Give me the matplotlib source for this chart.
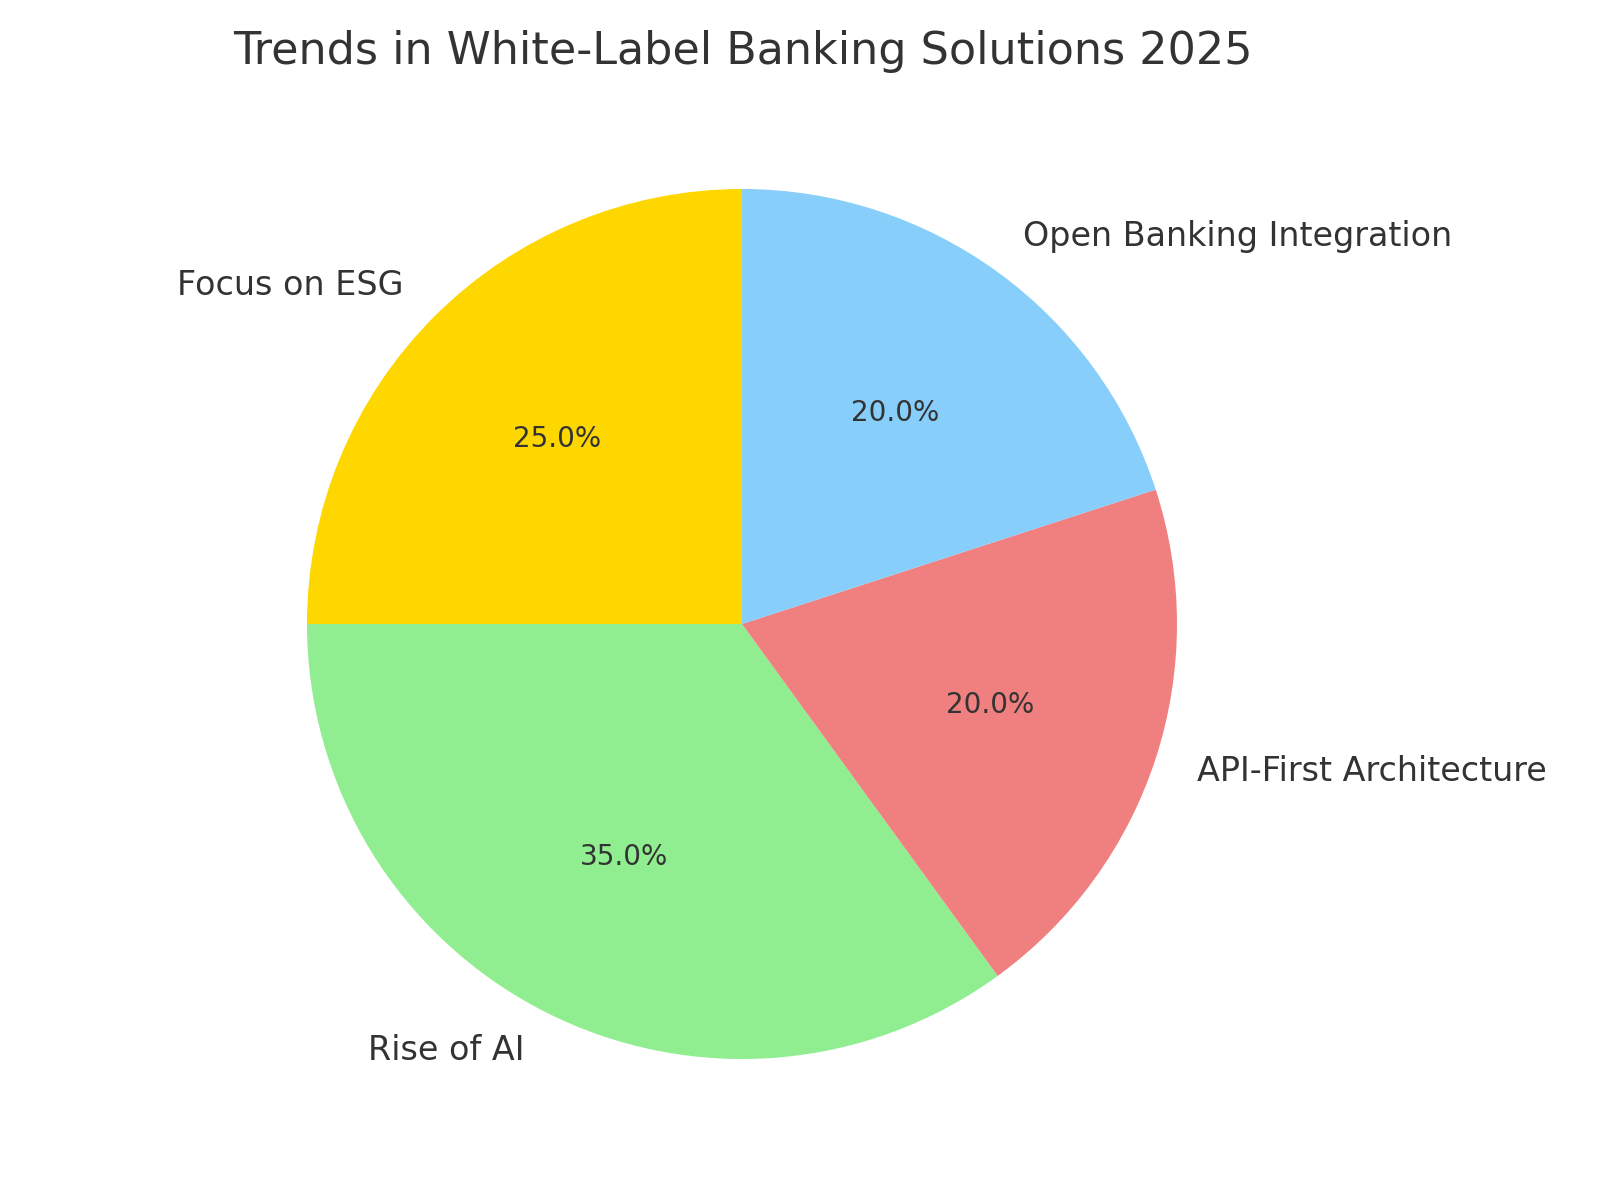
import matplotlib
matplotlib.use("Agg")
import matplotlib.pyplot as plt

labels = ["Focus on ESG", "Rise of AI", "API-First Architecture", "Open Banking Integration"]
shares = [25, 35, 20, 20]
colors = ["gold", "lightgreen", "lightcoral", "lightskyblue"]

text_color = "#333333"

fig = plt.figure(figsize=(8, 6), dpi=200)
# pie centred at about (742, 624) px, radius about 435 px
ax = fig.add_axes([0.1375, 0.045, 0.6525, 0.87])

wedges, texts, autotexts = ax.pie(
    shares,
    labels=labels,
    colors=colors,
    startangle=90,
    autopct="%1.1f%%",
    textprops={"color": text_color, "fontsize": 12},
)
for t in autotexts:
    t.set_fontsize(10)
ax.set_xlim(-1.2, 1.2)
ax.set_ylim(-1.2, 1.2)
ax.set_aspect("equal")

fig.text(233 / 1600, 1 - 64 / 1200, "Trends in White-Label Banking Solutions 2025",
         ha="left", va="baseline", fontsize=16, color=text_color)

plt.savefig("out.png", dpi=200)
